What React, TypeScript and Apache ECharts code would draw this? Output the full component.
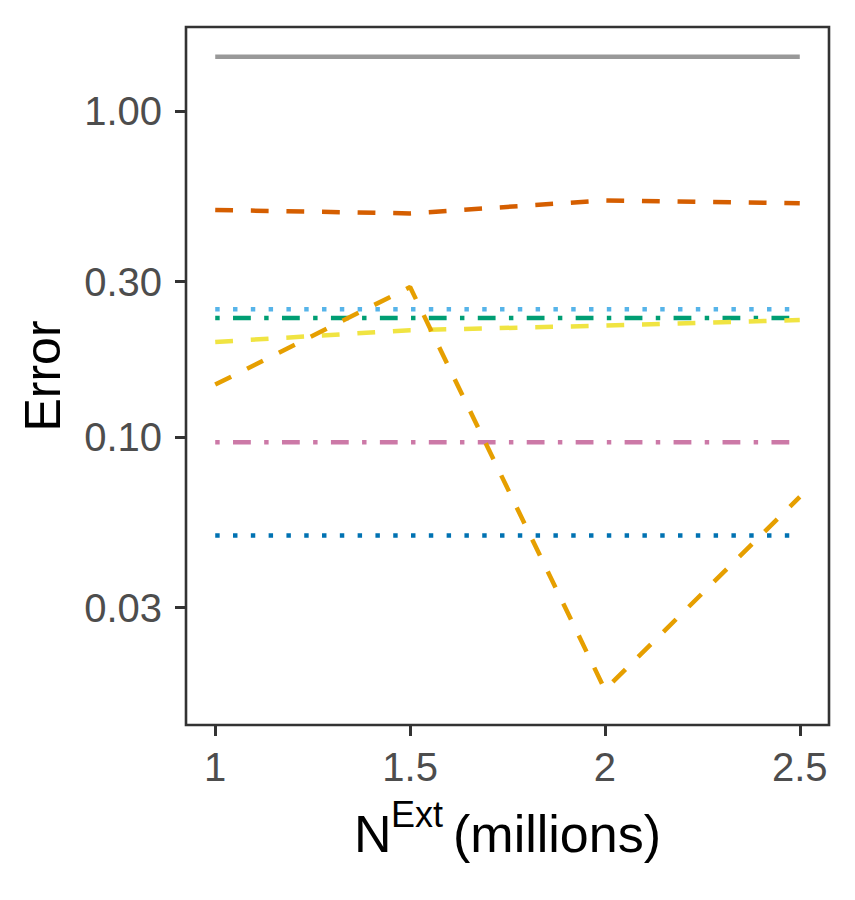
import React, { useEffect, useRef } from "react";
import * as echarts from "echarts";

// ---- data ----
const xValues = [1, 1.5, 2, 2.5];
const xTicks = [1, 1.5, 2, 2.5];
const yTicks = [0.03, 0.1, 0.3, 1];

const graySeries = [1.47, 1.47, 1.47, 1.47];
const vermillionSeries = [0.498, 0.486, 0.533, 0.522];
const skyBlueSeries = [0.247, 0.247, 0.247, 0.247];
const greenSeries = [0.232, 0.232, 0.232, 0.232];
const yellowSeries = [0.196, 0.213, 0.22, 0.229];
const orangeSeries = [0.145, 0.289, 0.0168, 0.0656];
const pinkSeries = [0.0965, 0.0965, 0.0965, 0.0965];
const blueSeries = [0.0499, 0.0499, 0.0499, 0.0499];

const FONT = "'Liberation Sans', Arial, Helvetica, sans-serif";
const LW = 4.5;
const U = 4.45;
const DASHED = [4 * U, 4 * U];
const DOTTED = [1 * U, 3 * U];
const DOTDASH = [1 * U, 3 * U, 4 * U, 3 * U];

function mk(name: string, values: number[], color: string, dash: any) {
  return {
    name,
    type: "line",
    data: xValues.map((x, i) => [x, values[i]]),
    showSymbol: false,
    symbol: "none",
    lineStyle: { color, width: LW, type: dash, cap: "butt" },
    emphasis: { disabled: true },
    z: 3,
  };
}

export default function App() {
  const ref = useRef<HTMLDivElement>(null);
  useEffect(() => {
    if (!ref.current) return;
    const chart = echarts.init(ref.current, undefined, { renderer: "svg" });
    chart.setOption({
      animation: false,
      backgroundColor: "#ffffff",
      grid: {
        left: 186,
        right: 26,
        top: 27,
        bottom: 175,
        show: true,
        borderColor: "#333333",
        borderWidth: 2.6,
        backgroundColor: "transparent",
        containLabel: false,
        outerBoundsMode: "none",
      },
      xAxis: {
        type: "value",
        min: 0.925,
        max: 2.575,
        axisLine: { show: false },
        splitLine: { show: false },
        axisTick: {
          show: true,
          length: 11,
          customValues: xTicks,
          lineStyle: { color: "#333333", width: 3 },
        },
        axisLabel: {
          customValues: xTicks,
          margin: 22,
          color: "#4D4D4D",
          fontSize: 40,
          fontFamily: FONT,
          formatter: (v: number) => String(v),
        },
      },
      yAxis: {
        type: "log",
        logBase: 10,
        min: 0.01309,
        max: 1.814,
        name: "Error",
        nameLocation: "middle",
        nameGap: 118,
        nameTextStyle: { fontSize: 50, color: "#000000", fontFamily: FONT },
        axisLine: { show: false },
        splitLine: { show: false },
        minorTick: { show: false },
        axisTick: {
          show: true,
          length: 11,
          customValues: yTicks,
          lineStyle: { color: "#333333", width: 3 },
        },
        axisLabel: {
          customValues: yTicks,
          margin: 24,
          color: "#4D4D4D",
          fontSize: 40,
          fontFamily: FONT,
          formatter: (v: number) => Number(v).toFixed(2),
        },
      },
      graphic: [
        {
          type: "text",
          left: 354,
          top: 808,
          style: { text: "N", fontSize: 52, fontFamily: FONT, fill: "#000000" },
        },
        {
          type: "text",
          left: 391,
          top: 796.5,
          style: { text: "Ext", fontSize: 36, fontFamily: FONT, fill: "#000000" },
        },
        {
          type: "text",
          left: 453,
          top: 808,
          style: { text: "(millions)", fontSize: 52, fontFamily: FONT, fill: "#000000" },
        },
      ],
      series: [
        mk("gray", graySeries, "#999999", "solid"),
        mk("blue", blueSeries, "#0072B2", DOTTED),
        mk("pink", pinkSeries, "#CC79A7", DOTDASH),
        mk("skyblue", skyBlueSeries, "#56B4E9", DOTTED),
        mk("green", greenSeries, "#009E73", DOTDASH),
        mk("yellow", yellowSeries, "#F0E442", DASHED),
        mk("vermillion", vermillionSeries, "#D55E00", DASHED),
        mk("orange", orangeSeries, "#E69F00", DASHED),
      ],
    });
    return () => chart.dispose();
  }, []);
  return (
    <div
      ref={ref}
      style={{ position: "fixed", left: 0, top: 0, width: 855, height: 900 }}
    />
  );
}
